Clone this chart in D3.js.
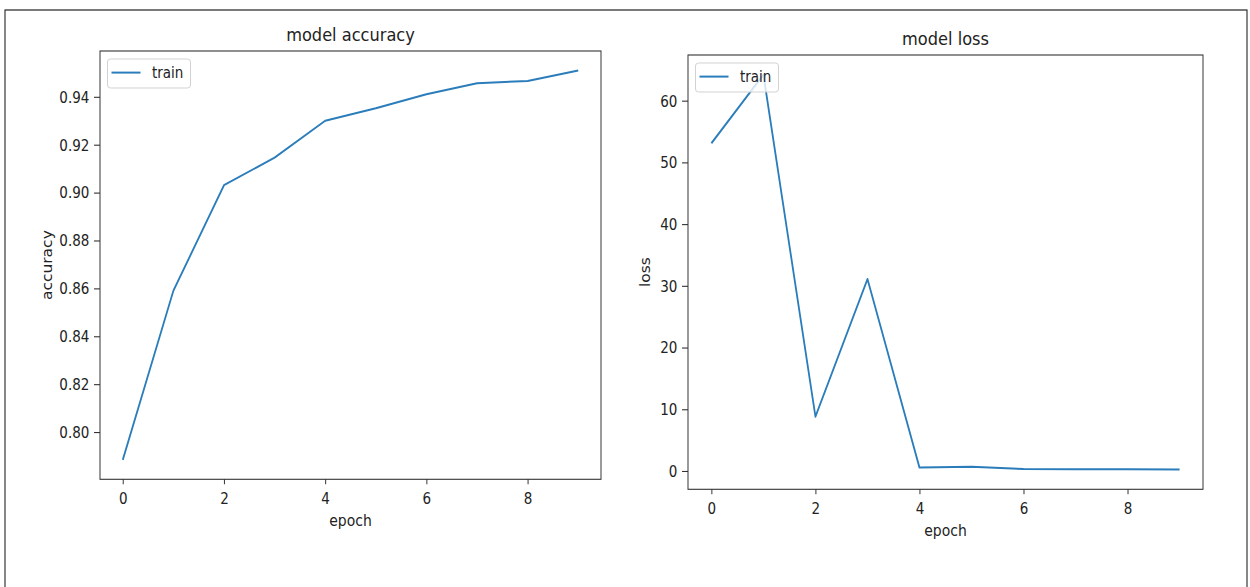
<!DOCTYPE html>
<html><head><meta charset="utf-8">
<script src="https://cdn.jsdelivr.net/npm/d3@7"></script>
<style>
body{margin:0;background:#fff}
svg{display:block}
text{font-family:"DejaVu Sans",sans-serif;fill:#222}
</style>
</head><body>
<svg id="c" width="1250" height="587"></svg>
<script>
// ---- data ----
const epochs = [0,1,2,3,4,5,6,7,8,9];
const accuracy = [0.7884,0.8590,0.9031,0.9146,0.9300,0.9352,0.9411,0.9457,0.9466,0.9510];
const loss = [53.1,64.2,8.8,31.1,0.55,0.69,0.32,0.30,0.27,0.23];
const xTicks = [0,2,4,6,8];
const accTicks = [0.80,0.82,0.84,0.86,0.88,0.90,0.92,0.94];
const lossTicks = [0,10,20,30,40,50,60];
const seriesName = "train";
const titles = ["model accuracy","model loss"];
const yLabels = ["accuracy","loss"];
const xLabel = "epoch";

// ---- layout ----
const S = 0.9; // horizontal squeeze of the original raster
const svg = d3.select("#c");
svg.append("rect").attr("width",1250).attr("height",587).attr("fill","#fff");
const root = svg.append("g").attr("transform",`scale(${S},1)`);

root.append("rect")
  .attr("x",5/S).attr("y",10).attr("width",(1247-5)/S).attr("height",600)
  .attr("fill","none").attr("stroke","#222").attr("stroke-width",1.2);

function pad(e){const r=e[1]-e[0];return [e[0]-0.05*r,e[1]+0.05*r];}

function panel(p){
  const g = root.append("g");
  const x = d3.scaleLinear().domain(pad(d3.extent(epochs))).range([p.left/S,p.right/S]);
  const y = d3.scaleLinear().domain(pad(d3.extent(p.values))).range([p.bottom,p.top]);

  g.append("path").datum(p.values)
    .attr("d", d3.line().x((d,i)=>x(epochs[i])).y(d=>y(d)))
    .attr("fill","none").attr("stroke","#2a7dba").attr("stroke-width",2)
    .attr("stroke-linejoin","round");

  // x axis
  const ax = g.append("g").attr("transform",`translate(0,${p.bottom})`)
    .call(d3.axisBottom(x).tickValues(xTicks).tickSize(5).tickFormat(d3.format("d")));
  ax.select(".domain").remove();
  ax.selectAll(".tick line").attr("stroke","#333").attr("stroke-width",1.1);
  ax.selectAll(".tick text").attr("y",25).attr("dy",null)
    .style("font-size","15px").style("font-family","DejaVu Sans").attr("fill","#222");

  // y axis
  const ay = g.append("g").attr("transform",`translate(${p.left/S},0)`)
    .call(d3.axisLeft(y).tickValues(p.ticks).tickSize(6/S).tickPadding(5.2).tickFormat(p.fmt));
  ay.select(".domain").remove();
  ay.selectAll(".tick line").attr("stroke","#333").attr("stroke-width",1.1);
  ay.selectAll(".tick text").attr("dy","0.36em")
    .style("font-size","15px").style("font-family","DejaVu Sans").attr("fill","#222");

  // frame
  g.append("rect").attr("x",p.left/S).attr("y",p.top)
    .attr("width",(p.right-p.left)/S).attr("height",p.bottom-p.top)
    .attr("fill","none").attr("stroke","#333").attr("stroke-width",1.1);

  // title
  g.append("text").attr("x",(p.left+p.right)/2/S).attr("y",p.top-10)
    .attr("text-anchor","middle").style("font-size","18px").text(p.title);
  // x label
  g.append("text").attr("x",(p.left+p.right)/2/S).attr("y",p.bottom+47)
    .attr("text-anchor","middle").style("font-size","15.5px").text(xLabel);
  // y label
  g.append("text")
    .attr("transform",`translate(${p.ylabelX/S},${(p.top+p.bottom)/2}) rotate(-90)`)
    .attr("text-anchor","middle").attr("dominant-baseline","central")
    .style("font-size","15.5px").text(p.ylabel);

  // legend
  const lx = p.left+7.5, ly = p.top+8;
  g.append("rect").attr("x",lx/S).attr("y",ly).attr("width",83/S).attr("height",29)
    .attr("rx",3/S).attr("ry",3)
    .attr("fill","#fff").attr("fill-opacity",0.8)
    .attr("stroke","#d0d0d0").attr("stroke-width",1);
  g.append("line").attr("x1",(lx+4)/S).attr("x2",(lx+33)/S)
    .attr("y1",ly+13.6).attr("y2",ly+13.6)
    .attr("stroke","#2a7dba").attr("stroke-width",2);
  g.append("text").attr("x",(lx+44.5)/S).attr("y",ly+19.5)
    .style("font-size","15px").text(seriesName);
}

panel({left:100,right:601,top:51,bottom:479.3,values:accuracy,ticks:accTicks,
       fmt:d3.format(".2f"),title:titles[0],ylabel:yLabels[0],ylabelX:46.7});
panel({left:688,right:1203,top:55,bottom:489.3,values:loss,ticks:lossTicks,
       fmt:d3.format("d"),title:titles[1],ylabel:yLabels[1],ylabelX:645});
</script>
</body></html>
